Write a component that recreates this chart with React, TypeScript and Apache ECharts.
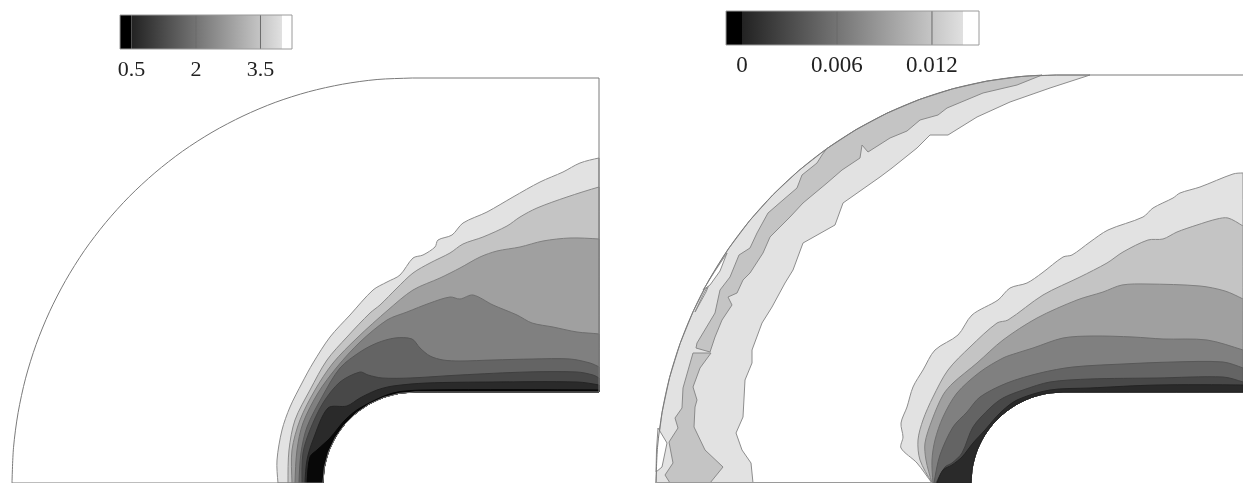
import React, { useEffect, useRef } from "react";
import * as echarts from "echarts";

type P = number[];

const LEFT_ARC: P[] = [[12,483],[13.5,447.7],[18.1,412.7],[25.6,378.2],[36.1,344.5],[49.5,311.8],[65.6,280.5],[84.3,250.7],[105.6,222.7],[129.2,196.6],[154.9,172.8],[182.6,151.2],[212,132.3],[243,116],[275.2,102.4],[308.5,91.8],[342.6,84.2],[377.1,79.5],[412,78]];
const LEFT_BODY: P[] = [[599,391],[599,392],[598,392],[416,392],[415,392],[399,393.4],[383.5,397.5],[369,404.2],[355.9,413.3],[344.5,424.5],[335.3,437.5],[328.5,451.9],[324.4,467.2],[323,482],[323,483],[322,483]];

const L1: P[] = [[278,483],[277,460],[282,430],[290,407],[302,383],[313,363],[330,337],[350,315],[373,290],[387,282],[400,275],[413,258],[423,255],[435,247],[438,240],[452,235],[463,223],[487,212],[513,197],[540,182],[563,172],[580,163],[599,158]];
const L2: P[] = [[288,483],[289,450],[295,420],[310,390],[327,360],[347,337],[370,313],[380,305],[397,288],[413,273],[430,263],[450,253],[463,244],[483,237],[507,226],[520,217],[537,208],[567,197],[599,187]];
const L3: P[] = [[292,483],[292,450],[300,420],[315,390],[333,363],[357,338],[388,310],[413,290],[440,278],[460,268],[480,257],[497,251],[520,247],[543,241],[570,238],[599,239]];
const L4: P[] = [[295,483],[297,450],[303,423],[318,393],[337,367],[360,342],[387,320],[407,312],[430,303],[450,297],[460,299],[473,295],[493,305],[517,315],[532,323],[553,327],[577,332],[599,334]];
const L5: P[] = [[299,483],[301,453],[307,427],[322,397],[340,368],[360,352],[377,343],[395,338],[412,339],[420,348],[430,356],[443,360],[460,361],[493,360],[533,359],[570,359],[590,363],[599,367]];
const L6: P[] = [[302,483],[303,453],[310,430],[323,403],[340,382],[360,372],[368,375],[382,378],[410,378],[460,375],[527,372],[577,372],[593,375],[599,378]];
const L7: P[] = [[305,483],[307,460],[313,440],[328,408],[347,406],[360,398],[377,390],[393,386],[427,383],[493,382],[577,382],[599,385]];
const L8: P[] = [[307,483],[310,457],[317,450],[330,438],[345,420],[360,408],[393,393],[427,390],[599,390]];

const RIGHT_ARC: P[] = [[656,483],[657.5,447.4],[662.1,412.2],[669.6,377.4],[680.1,343.5],[693.5,310.6],[709.6,279],[728.3,249],[749.6,220.7],[773.2,194.5],[798.9,170.5],[826.6,148.8],[856,129.7],[887,113.2],[919.2,99.6],[952.5,88.9],[986.6,81.2],[1021.1,76.5],[1056,75]];
const RIGHT_TOP: P[] = [[1243,75]];
const RIGHT_BODY: P[] = [[1243,391],[1243,392],[1242,392],[1064,392],[1063,392],[1047,393.4],[1031.5,397.5],[1017,404.2],[1003.9,413.3],[992.5,424.5],[983.3,437.5],[976.5,451.9],[972.4,467.2],[971,482],[971,483],[970,483]];

const R1: P[] = [[932,483],[917,463],[901,448],[903,437],[901,423],[907,407],[913,387],[923,370],[935,350],[958,335],[972,315],[998,300],[1010,288],[1027,283],[1042,273],[1063,257],[1072,255],[1090,242],[1108,230],[1143,217],[1153,208],[1173,198],[1180,193],[1200,187],[1233,174],[1243,173]];
const R2: P[] = [[932,483],[920,460],[918,440],[923,420],[933,397],[948,370],[970,347],[997,323],[1008,320],[1043,295],[1080,277],[1107,263],[1123,252],[1148,240],[1163,239],[1177,232],[1197,225],[1217,219],[1228,218],[1243,226]];
const R3: P[] = [[932,483],[926,460],[925,443],[932,420],[943,395],[953,383],[977,363],[1003,340],[1037,318],[1077,300],[1103,292],[1122,285],[1147,284],[1200,286],[1225,291],[1243,299]];
const R4: P[] = [[933,483],[932,460],[935,440],[943,417],[957,393],[980,372],[1003,358],[1017,353],[1033,348],[1063,338],[1093,336],[1133,337],[1163,339],[1207,340],[1243,350]];
const R5: P[] = [[934,483],[940,455],[953,427],[967,412],[980,397],[1007,383],[1040,373],[1073,367],[1123,364],[1173,362],[1223,362],[1243,368]];
const R6: P[] = [[936,483],[945,467],[952,463],[962,453],[973,427],[990,408],[1003,398],[1023,390],[1050,382],[1090,379],[1157,378],[1223,377],[1243,382]];
const R7: P[] = [[937,483],[943,470],[952,465],[962,457],[973,443],[985,430],[1000,413],[1017,400],[1050,390],[1090,388],[1157,385],[1243,385]];

const BAND_EDGE: P[] = [[1090,75],[1050,88],[1010,102],[977,117],[948,135],[930,135],[917,148],[892,168],[880,177],[843,203],[835,225],[803,243],[793,270],[785,283],[772,307],[762,323],[752,350],[752,363],[745,380],[743,417],[736,433],[742,450],[751,463],[753,483]];
const BAND_UPPER: P[] = [[696,348],[710,352],[715,337],[722,320],[732,305],[728,297],[737,293],[743,280],[750,273],[763,253],[770,237],[790,217],[803,203],[827,183],[842,170],[860,158],[862,145],[868,152],[890,138],[907,131],[920,120],[938,115],[947,108],[983,93],[1017,85],[1042,75],[1021.1,76.5],[986.6,81.2],[952.5,88.9],[919.2,99.6],[887,113.2],[856,129.7],[826.6,148.8],[822,155],[817,163],[802,175],[797,188],[783,200],[768,213],[757,233],[750,248],[739,255],[730,277],[720,290],[715,313],[697,343]];
const BAND_LOWER: P[] = [[693,353],[711,353],[700,368],[693,387],[697,400],[695,407],[694,427],[705,450],[723,467],[710,483],[670,483],[665,475],[673,463],[669,442],[678,428],[675,418],[682,408],[683,388]];
const SLIVER_A: P[] = [[658,428],[667,443],[662,467],[656,472],[656.5,450]];
const SLIVER_B: P[] = [[695,312],[703,295],[711,280],[706,292]];
const SLIVER_C: P[] = [[703,290],[715,271],[727,253],[720,271],[710,285]];

const FILLS = ["#e2e2e2", "#c4c4c4", "#a0a0a0", "#808080", "#646464", "#484848", "#2a2a2a", "#080808"];
const LINES = ["#8c8c8c", "#8a8a8a", "#808080", "#6e6e6e", "#585858", "#404040", "#242424", "#080808"];

const LEFT_LEVELS = [L1, L2, L3, L4, L5, L6, L7, L8];
const RIGHT_LEVELS = [R1, R2, R3, R4, R5, R6, R7];

const BAR_L_RANGE = [0.233, 4.233];
const BAR_L_STOPS = [0.233, 0.5, 4, 4.233];
const BAR_R_RANGE = [-0.00101, 0.01497];
const BAR_R_STOPS = [-0.00101, 0, 0.01396, 0.01497];
const BAR_SEG_COLORS = [["#000000", "#000000"], ["#222222", "#e0e0e0"], ["#ffffff", "#ffffff"]];
const TICKS_L = [0.5, 2, 3.5];
const LABELS_L = ["0.5", "2", "3.5"];
const TICKS_R = [0, 0.006, 0.012];
const LABELS_R = ["0", "0.006", "0.012"];

function polygonSeries(points: P[], fill: string | null, stroke: string, width = 1, smooth = 0) {
  return {
    type: "custom",
    silent: true,
    coordinateSystem: "cartesian2d",
    xAxisIndex: 0,
    yAxisIndex: 0,
    clip: false,
    data: points,
    renderItem: (params: any, api: any) => {
      if (params.dataIndex !== 0) return null;
      return {
        type: "polygon",
        shape: { points: points.map((p) => api.coord(p)), smooth },
        style: { fill: fill ?? "none", stroke, lineWidth: width, lineJoin: "round" },
      };
    },
  };
}

function polylineSeries(points: P[], stroke: string, width = 1, smooth = 0) {
  return {
    type: "custom",
    silent: true,
    coordinateSystem: "cartesian2d",
    xAxisIndex: 0,
    yAxisIndex: 0,
    clip: false,
    data: points,
    renderItem: (params: any, api: any) => {
      if (params.dataIndex !== 0) return null;
      return {
        type: "polyline",
        shape: { points: points.map((p) => api.coord(p)), smooth },
        style: { fill: "none", stroke, lineWidth: width },
      };
    },
  };
}

function barSeries(stops: number[], axisIndex: number) {
  return {
    type: "custom",
    silent: true,
    coordinateSystem: "cartesian2d",
    xAxisIndex: axisIndex,
    yAxisIndex: axisIndex,
    z: 1,
    data: stops.slice(0, -1).map((s, i) => [s, stops[i + 1]]),
    encode: { x: [0, 1] },
    renderItem: (params: any, api: any) => {
      const a = api.coord([api.value(0), 0]);
      const b = api.coord([api.value(1), 1]);
      const [c0, c1] = BAR_SEG_COLORS[params.dataIndex];
      return {
        type: "rect",
        shape: { x: a[0], y: b[1], width: b[0] - a[0], height: a[1] - b[1] },
        style: {
          fill: new echarts.graphic.LinearGradient(0, 0, 1, 0, [
            { offset: 0, color: c0 },
            { offset: 1, color: c1 },
          ]),
        },
      };
    },
  };
}

function barTicks(ticks: number[], axisIndex: number) {
  return {
    type: "custom",
    silent: true,
    coordinateSystem: "cartesian2d",
    xAxisIndex: axisIndex,
    yAxisIndex: axisIndex,
    z: 2,
    data: ticks.map((t) => [t]),
    renderItem: (_p: any, api: any) => {
      const a = api.coord([api.value(0), 0]);
      const b = api.coord([api.value(0), 1]);
      return {
        type: "line",
        shape: { x1: a[0], y1: a[1], x2: b[0], y2: b[1] },
        style: { stroke: "#6a6a6a", lineWidth: 1 },
      };
    },
  };
}

function barFrame(range: number[], axisIndex: number) {
  return {
    type: "custom",
    silent: true,
    coordinateSystem: "cartesian2d",
    xAxisIndex: axisIndex,
    yAxisIndex: axisIndex,
    z: 3,
    data: [[range[0], range[1]]],
    renderItem: (_p: any, api: any) => {
      const a = api.coord([api.value(0), 0]);
      const b = api.coord([api.value(1), 1]);
      return {
        type: "rect",
        shape: { x: a[0], y: b[1], width: b[0] - a[0], height: a[1] - b[1] },
        style: { fill: "none", stroke: "#9a9a9a", lineWidth: 1 },
      };
    },
  };
}

function barAxis(range: number[], ticks: number[], labels: string[], gridIndex: number, fontSize: number, margin: number) {
  return {
    type: "value",
    gridIndex,
    min: range[0],
    max: range[1],
    splitLine: { show: false },
    axisLine: { show: false },
    axisTick: { show: false },
    axisLabel: {
      show: true,
      customValues: ticks,
      margin,
      hideOverlap: false,
      fontFamily: "Liberation Serif",
      fontSize,
      color: "#222222",
      formatter: (v: number) => labels[ticks.findIndex((t) => Math.abs(t - v) < 1e-9)] ?? "",
    },
  };
}

const hiddenY = (gridIndex: number) => ({ type: "value", gridIndex, min: 0, max: 1, show: false });

export default function App() {
  const ref = useRef<HTMLDivElement>(null);
  useEffect(() => {
    const chart = echarts.init(ref.current!, undefined, { renderer: "svg" });
    const series: any[] = [];
    const open = (c: P[]) => [[c[0][0] + 1, 483]];
    const end = (c: P[]) => {
      const last = c[c.length - 1];
      return [[last[0], last[1] + 1]];
    };
    LEFT_LEVELS.forEach((c, i) => series.push(polygonSeries([...open(c), ...c, ...end(c), ...LEFT_BODY], FILLS[i], LINES[i], 1, 0.3)));
    RIGHT_LEVELS.forEach((c, i) => series.push(polygonSeries([...open(c), ...c, ...end(c), ...RIGHT_BODY], FILLS[i], LINES[i], 1, 0.3)));
    series.push(polygonSeries([...RIGHT_ARC, ...BAND_EDGE], FILLS[0], LINES[0]));
    series.push(polygonSeries(BAND_UPPER, FILLS[1], LINES[1]));
    series.push(polygonSeries(BAND_LOWER, FILLS[1], LINES[1]));
    series.push(polygonSeries(SLIVER_A, "#ffffff", LINES[0]));
    series.push(polygonSeries(SLIVER_B, "#ffffff", LINES[0]));
    series.push(polygonSeries(SLIVER_C, "#ffffff", LINES[0]));
    series.push(polylineSeries([...LEFT_ARC, [413, 78]], "#7a7a7a", 1, 0.3));
    series.push(polylineSeries([[413, 78], [599, 78], ...LEFT_BODY.slice(1, 3), ...LEFT_BODY.slice(4), [12, 483]], "#7a7a7a"));
    series.push(polylineSeries([...RIGHT_ARC, [1057, 75]], "#7a7a7a", 1, 0.3));
    series.push(polylineSeries([[1057, 75], ...RIGHT_TOP], "#7a7a7a"));
    series.push(polylineSeries([[656, 482.5], [932, 482.5]], "#9a9a9a"));
    series.push(barSeries(BAR_L_STOPS, 1));
    series.push(barTicks(TICKS_L.slice(1), 1));
    series.push(barFrame(BAR_L_RANGE, 1));
    series.push(barSeries(BAR_R_STOPS, 2));
    series.push(barTicks(TICKS_R.slice(1), 2));
    series.push(barFrame(BAR_R_RANGE, 2));

    chart.setOption({
      animation: false,
      tooltip: { show: false },
      grid: [
        { left: 0, top: 0, width: 1243, height: 483 },
        { left: 120, top: 15, width: 172, height: 34 },
        { left: 726, top: 11, width: 253, height: 34 },
      ],
      xAxis: [
        { type: "value", gridIndex: 0, min: 0, max: 1243, show: false },
        barAxis(BAR_L_RANGE, TICKS_L, LABELS_L, 1, 22, 8),
        barAxis(BAR_R_RANGE, TICKS_R, LABELS_R, 2, 23, 8),
      ],
      yAxis: [
        { type: "value", gridIndex: 0, min: 0, max: 483, inverse: true, show: false },
        hiddenY(1),
        hiddenY(2),
      ],
      series,
    });
    return () => chart.dispose();
  }, []);
  return (
    <div
      ref={ref}
      style={{ position: "absolute", left: 0, top: 0, width: 1243, height: 483, filter: "blur(0.5px)" }}
    />
  );
}
